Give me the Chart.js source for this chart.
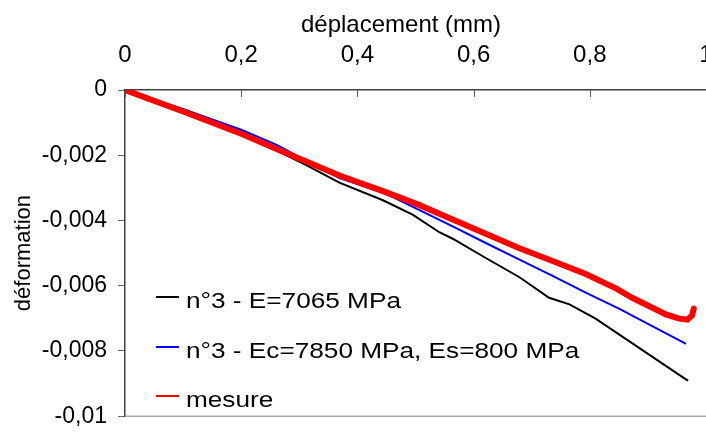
<!DOCTYPE html>
<html>
<head>
<meta charset="utf-8">
<script src="https://cdn.jsdelivr.net/npm/chart.js@4.4.1/dist/chart.umd.min.js"></script>
<style>
  html, body { margin: 0; padding: 0; background: #fff; }
  #wrap { width: 706px; height: 441px; }
</style>
</head>
<body>
<div id="wrap"><canvas id="chart" width="706" height="441"></canvas></div>
<script>
// axis labels (comma decimals, as in the original)
const xTickLabels = ['0', '0,2', '0,4', '0,6', '0,8', '1']
const yTickLabels = ['0', '-0,002', '-0,004', '-0,006', '-0,008', '-0,01']
const xTitle = 'déplacement (mm)'
const yTitle = 'déformation'
const seriesNames = ['n°3 - E=7065 MPa', 'n°3 - Ec=7850 MPa, Es=800 MPa', 'mesure']

// n°3 - E=7065 MPa
const dispE = [0, 0.1, 0.2, 0.261, 0.312, 0.369, 0.444, 0.495, 0.541, 0.564, 0.621, 0.679, 0.730, 0.765, 0.810, 0.968]
const strainE = [0, -0.00059, -0.00124, -0.00186, -0.0023, -0.00284, -0.00338, -0.00382, -0.00436, -0.00456, -0.00515, -0.00574, -0.00637, -0.00657, -0.00701, -0.0089]

// n°3 - Ec=7850 MPa, Es=800 MPa
const dispEcEs = [0, 0.1, 0.2, 0.261, 0.369, 0.444, 0.507, 0.564, 0.621, 0.679, 0.736, 0.793, 0.851, 0.964]
const strainEcEs = [0, -0.00059, -0.00122, -0.00168, -0.0027, -0.00314, -0.00368, -0.00418, -0.00469, -0.0052, -0.0057, -0.00621, -0.00671, -0.00777]

// mesure
const dispMes = [0, 0.1, 0.2, 0.261, 0.369, 0.444, 0.4725, 0.507, 0.564, 0.621, 0.679, 0.736, 0.793, 0.845, 0.873, 0.931, 0.954, 0.968, 0.976, 0.979]
const strainMes = [0, -0.00066, -0.00134, -0.00181, -0.00262, -0.0031, -0.00329, -0.00353, -0.00397, -0.00441, -0.00485, -0.00524, -0.00564, -0.00608, -0.00637, -0.00688, -0.00701, -0.00704, -0.00691, -0.0067]

const FONT = "'Liberation Sans', Arial, sans-serif"

function pts(xs, ys) {
  return xs.map((x, i) => ({ x: x, y: ys[i] }))
}

// inward ticks on the top axis, bottom frame line, x title and legend
const extras = {
  id: 'extras',
  afterDatasetsDraw(chart) {
    const ctx = chart.ctx
    const area = chart.chartArea
    const xs = chart.scales.x
    ctx.save()

    ctx.strokeStyle = '#555'
    ctx.lineWidth = 1
    xTickLabels.forEach((_, i) => {
      const px = Math.round(xs.getPixelForValue(i * 0.2)) + 0.5
      ctx.beginPath()
      ctx.moveTo(px, area.top)
      ctx.lineTo(px, area.top + 7)
      ctx.stroke()
    })

    ctx.strokeStyle = '#a6a6a6'
    ctx.lineWidth = 1.5
    ctx.beginPath()
    ctx.moveTo(area.left, area.bottom)
    ctx.lineTo(chart.width, area.bottom)
    ctx.stroke()

    ctx.fillStyle = '#000'
    ctx.font = '24px ' + FONT
    ctx.textAlign = 'center'
    ctx.textBaseline = 'alphabetic'
    ctx.fillText(xTitle, 401, 32)

    // legend (the original text is slightly wide, so stretch it a little)
    const baselines = [308, 358, 407]
    ctx.font = '22px ' + FONT
    ctx.textAlign = 'left'
    chart.data.datasets.forEach((ds, i) => {
      const b = baselines[i]
      ctx.strokeStyle = ds.borderColor
      ctx.lineWidth = 2
      ctx.beginPath()
      ctx.moveTo(156, b - 11)
      ctx.lineTo(179, b - 11)
      ctx.stroke()
      ctx.save()
      ctx.translate(186, b)
      ctx.scale(1.19, 1)
      ctx.fillStyle = '#000'
      ctx.fillText(ds.label, 0, 0)
      ctx.restore()
    })
    ctx.restore()
  }
}

new Chart(document.getElementById('chart'), {
  type: 'line',
  data: {
    datasets: [
      { label: seriesNames[0], data: pts(dispE, strainE), borderColor: '#000000', borderWidth: 2, order: 2 },
      { label: seriesNames[1], data: pts(dispEcEs, strainEcEs), borderColor: '#0000ff', borderWidth: 2, order: 1 },
      { label: seriesNames[2], data: pts(dispMes, strainMes), borderColor: '#ff0000', borderWidth: 6, order: 0 }
    ]
  },
  options: {
    responsive: false,
    animation: false,
    devicePixelRatio: 1,
    layout: { padding: { left: 0, right: 0, top: 0, bottom: 11 } },
    elements: { point: { radius: 0 }, line: { tension: 0, borderCapStyle: 'round' } },
    plugins: { legend: { display: false }, tooltip: { enabled: false } },
    scales: {
      x: {
        type: 'linear',
        position: 'top',
        min: 0,
        max: 1,
        ticks: {
          stepSize: 0.2,
          color: '#000',
          padding: 20,
          font: { family: FONT, size: 24 },
          callback: (v) => xTickLabels[Math.round(v / 0.2)]
        },
        grid: { drawOnChartArea: false, drawTicks: false, tickLength: 0 },
        border: { color: '#404040', width: 1.5 },
        afterFit(s) { s.height = 90; s.paddingLeft = 0; s.paddingRight = 0 }
      },
      y: {
        type: 'linear',
        min: -0.01,
        max: 0,
        ticks: {
          stepSize: 0.002,
          color: '#000',
          padding: 11,
          font: { family: FONT, size: 23 },
          callback: (v) => yTickLabels[Math.round(-v / 0.002)]
        },
        grid: { drawOnChartArea: false, tickLength: 7, color: '#666' },
        border: { color: '#404040', width: 1.5 },
        title: {
          display: true,
          text: yTitle,
          color: '#000',
          font: { family: FONT, size: 22 },
          padding: { top: 11, bottom: 0 }
        },
        afterFit(s) { s.width = 125 }
      }
    }
  },
  plugins: [extras]
})
</script>
</body>
</html>
